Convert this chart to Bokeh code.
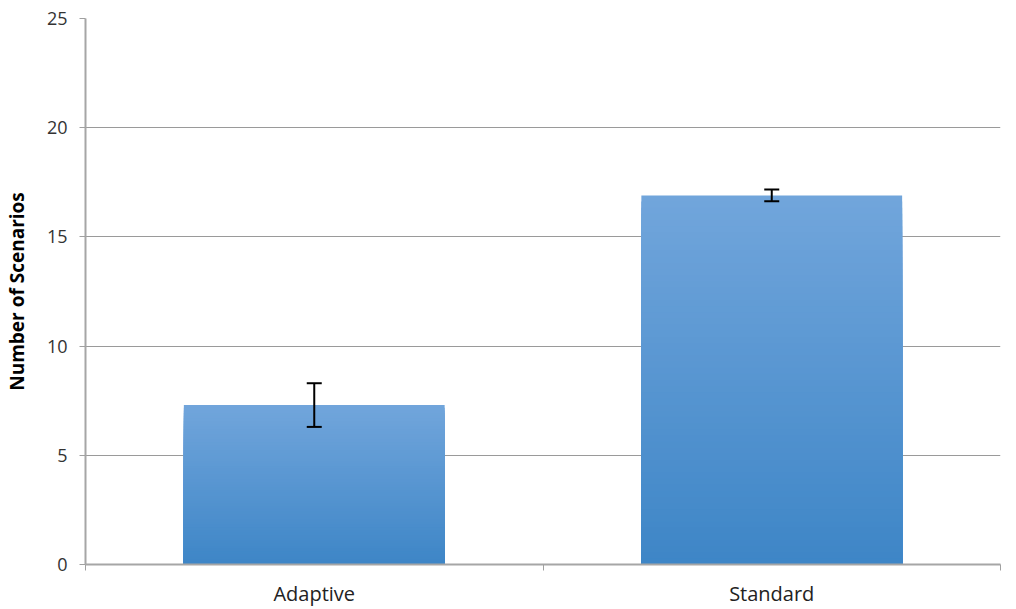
from bokeh.plotting import figure
from bokeh.models import ColumnDataSource, FixedTicker, Whisker, TeeHead, Range1d
from bokeh.embed import file_html
from bokeh.resources import INLINE

categories = ["Adaptive", "Standard"]
values = [7.3, 16.9]
errors = [1.0, 0.27]
y_ticks = [0, 5, 10, 15, 20, 25]

FONT = "Open Sans"
BAR_W = 0.57
N_SLICES = 60
TOP_RGB = (0x72, 0xA6, 0xDC)
BOT_RGB = (0x3E, 0x86, 0xC7)

xs = [i + 0.5 for i in range(len(categories))]

p = figure(width=1008, height=609, output_backend="svg", toolbar_location=None,
           x_range=Range1d(0, len(categories)), y_range=Range1d(0, 25))
p.min_border_left = 85
p.min_border_right = 8
p.min_border_top = 18
p.min_border_bottom = 45
p.outline_line_color = None
p.background_fill_color = "white"
p.border_fill_color = "white"

# gradient bars: overlapping slices from tallest (lightest) to shortest (darkest)
sx, sb, st, sc = [], [], [], []
for k in range(N_SLICES, 0, -1):
    f = k / N_SLICES
    t = (k - 0.5) / N_SLICES
    r = int(BOT_RGB[0] + (TOP_RGB[0] - BOT_RGB[0]) * t)
    g = int(BOT_RGB[1] + (TOP_RGB[1] - BOT_RGB[1]) * t)
    b = int(BOT_RGB[2] + (TOP_RGB[2] - BOT_RGB[2]) * t)
    for x, v in zip(xs, values):
        sx.append(x)
        sb.append(0)
        st.append(v * f)
        sc.append("#%02x%02x%02x" % (r, g, b))
slices = ColumnDataSource(dict(x=sx, bottom=sb, top=st, color=sc))
p.vbar(x="x", bottom="bottom", top="top", width=BAR_W, fill_color="color",
       line_color=None, source=slices)

# error bars
err = ColumnDataSource(dict(x=xs,
                            upper=[v + e for v, e in zip(values, errors)],
                            lower=[v - e for v, e in zip(values, errors)]))
w = Whisker(base="x", upper="upper", lower="lower", source=err,
            line_color="black", line_width=2, level="overlay",
            upper_head=TeeHead(size=15, line_color="black", line_width=2),
            lower_head=TeeHead(size=15, line_color="black", line_width=2))
p.add_layout(w)

# axes
p.xaxis.ticker = FixedTicker(ticks=xs, minor_ticks=list(range(len(categories) + 1)))
p.xaxis.major_label_overrides = {x: c for x, c in zip(xs, categories)}
p.xaxis.major_tick_out = 0
p.xaxis.major_tick_in = 0
p.xaxis.minor_tick_out = 6
p.xaxis.minor_tick_in = 0
p.xaxis.minor_tick_line_color = "#a0a0a0"
p.xaxis.axis_line_color = "#a6a6a6"
p.xaxis.axis_line_width = 2
p.xaxis.major_label_text_font = FONT
p.xaxis.major_label_text_font_size = "20px"
p.xaxis.major_label_text_color = "#222222"
p.xaxis.major_label_standoff = 9

p.yaxis.ticker = FixedTicker(ticks=y_ticks, minor_ticks=[])
p.yaxis.major_tick_out = 6
p.yaxis.major_tick_in = 0
p.yaxis.major_tick_line_color = "#a0a0a0"
p.yaxis.axis_line_color = "#a6a6a6"
p.yaxis.axis_line_width = 2
p.yaxis.major_label_text_font = FONT
p.yaxis.major_label_text_font_size = "18px"
p.yaxis.major_label_text_color = "#333333"
p.yaxis.major_label_standoff = 12
p.yaxis.axis_label = "Number of Scenarios"
p.yaxis.axis_label_text_font = FONT
p.yaxis.axis_label_text_font_size = "19px"
p.yaxis.axis_label_text_font_style = "bold"
p.yaxis.axis_label_text_color = "black"
p.yaxis.axis_label_standoff = 14

p.xgrid.grid_line_color = None
p.ygrid.grid_line_color = "#9a9a9a"
p.ygrid.grid_line_width = 1

open("out.html", "w").write(file_html(p, INLINE))
